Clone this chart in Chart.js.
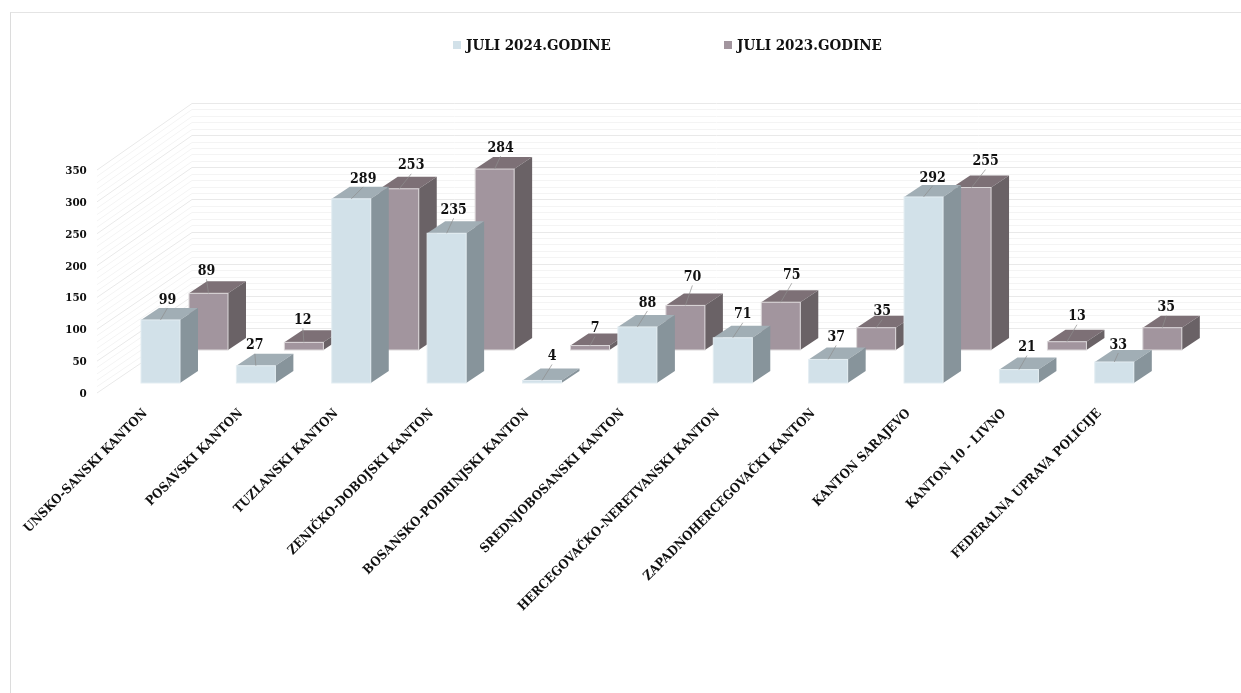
<!DOCTYPE html>
<html>
<head>
<meta charset="utf-8">
<title>Juli 2024 / Juli 2023</title>
<script src="https://cdn.jsdelivr.net/npm/chart.js@4"></script>
<style>
  html, body { margin: 0; padding: 0; background: #fff; overflow: hidden; }
  #frame { position: absolute; left: 10px; top: 12px; right: 0; bottom: 0; border-left: 1px solid #dcdcdc; border-top: 1px solid #e4e4e4; }
  canvas { position: absolute; left: 0; top: 0; }
</style>
</head>
<body>
<div id="frame"></div>
<canvas id="chart" width="1241" height="693"></canvas>
<script>
const categories = [
  'UNSKO-SANSKI KANTON', 'POSAVSKI KANTON', 'TUZLANSKI KANTON', 'ZENIČKO-DOBOJSKI KANTON',
  'BOSANSKO-PODRINJSKI KANTON', 'SREDNJOBOSANSKI KANTON', 'HERCEGOVAČKO-NERETVANSKI KANTON',
  'ZAPADNOHERCEGOVAČKI KANTON', 'KANTON SARAJEVO', 'KANTON 10 - LIVNO', 'FEDERALNA UPRAVA POLICIJE',
];
const values2024 = [99, 27, 289, 235, 4, 88, 71, 37, 292, 21, 33];
const values2023 = [89, 12, 253, 284, 7, 70, 75, 35, 255, 13, 35];

const FONT = '"DejaVu Serif", serif';
const WEIGHT = 'condensed bold';
const TEXT = '#111';

// 3D look: each series sits on its own plane, shifted from the axis zero
const planes = [
  { dx: 0, dy: -11, front: '#d2e1e9', side: '#87949b', top: '#a1aeb5', edge: '#e3edf2' },
  { dx: 48, dy: -44, front: '#a2959e', side: '#6a6266', top: '#7d7076', edge: '#dcd8da' },
];
const depth = { x: 18, y: -12 };
const wall = { left: 97, dx: 95, dy: -65, stretch: 1.009 };

// small shifts of the value labels, they do not sit evenly in the original
const labelShift2024 = [[1, 3], [-7, 3], [6, 3], [1, 0], [4, -1], [4, -1], [4, 0], [2, 1], [3, 4], [2, 1], [-2, 6]];
const labelShift2023 = [[-8, 1], [-7, 1], [6, 0], [0, 2], [-1, 6], [1, -5], [5, -4], [0, 7], [8, -3], [4, -2], [-2, 3]];

function poly(ctx, pts, fill) {
  ctx.fillStyle = fill;
  ctx.beginPath();
  pts.forEach((p, i) => (i ? ctx.lineTo(p[0], p[1]) : ctx.moveTo(p[0], p[1])));
  ctx.closePath();
  ctx.fill();
}

function drawWall(chart) {
  const ctx = chart.ctx;
  const yScale = chart.scales.y;
  const zero = yScale.getPixelForValue(0);
  ctx.save();
  ctx.lineWidth = 1;
  for (let v = 0; v <= yScale.max; v += 10) {
    const y = yScale.getPixelForValue(v) - 1;
    const backY = Math.round(zero + (y - zero) * wall.stretch + wall.dy) + 0.5;
    ctx.strokeStyle = v % 50 === 0 ? '#e9e9e9' : '#f4f4f4';
    ctx.beginPath();
    ctx.moveTo(wall.left, y);
    ctx.lineTo(wall.left + wall.dx, backY);
    ctx.lineTo(chart.width, backY);
    ctx.stroke();
  }
  ctx.restore();
}

function drawCube(ctx, bar, plane) {
  const l = bar.x - bar.width / 2 + plane.dx;
  const r = bar.x + bar.width / 2 + plane.dx;
  const t = bar.y + plane.dy;
  const b = bar.base + plane.dy;
  const dx = depth.x;
  const dy = depth.y;
  poly(ctx, [[l, t], [r, t], [r + dx, t + dy], [l + dx, t + dy]], plane.top);
  poly(ctx, [[r, t], [r + dx, t + dy], [r + dx, b + dy], [r, b]], plane.side);
  poly(ctx, [[l, t], [r, t], [r, b], [l, b]], plane.front);
  ctx.strokeStyle = plane.edge;
  ctx.lineWidth = 1;
  ctx.strokeRect(l, t, r - l, b - t);
}

function drawLabel(ctx, bar, plane, value, shift) {
  const cx = bar.x + plane.dx;
  const t = bar.y + plane.dy;
  const lx = cx + 6 + shift[0];
  const ly = t + depth.y - 11 + shift[1];
  ctx.strokeStyle = '#8e8e8e';
  ctx.lineWidth = 0.7;
  ctx.beginPath();
  ctx.moveTo(cx, t);
  ctx.lineTo(lx, ly + 8);
  ctx.stroke();
  ctx.fillStyle = TEXT;
  ctx.font = WEIGHT + ' 14px ' + FONT;
  ctx.textAlign = 'center';
  ctx.textBaseline = 'middle';
  ctx.fillText(String(value), lx, ly);
}

function drawLegend(chart) {
  const ctx = chart.ctx;
  const starts = [453, 724];
  ctx.save();
  ctx.font = WEIGHT + ' 15px ' + FONT;
  ctx.textBaseline = 'middle';
  ctx.textAlign = 'left';
  chart.data.datasets.forEach((ds, i) => {
    ctx.fillStyle = planes[i].front;
    ctx.fillRect(starts[i], 41, 8, 8);
    ctx.fillStyle = TEXT;
    ctx.fillText(ds.label, starts[i] + 13, 46);
  });
  ctx.restore();
}

const cubes = {
  id: 'cubes',
  beforeDraw(chart) {
    drawWall(chart);
    drawLegend(chart);
  },
  beforeDatasetsDraw(chart) {
    const ctx = chart.ctx;
    const shifts = [labelShift2024, labelShift2023];
    ctx.save();
    // back series first, the front series overlaps it
    [1, 0].forEach((i) => {
      chart.getDatasetMeta(i).data.forEach((bar) => drawCube(ctx, bar, planes[i]));
    });
    [1, 0].forEach((i) => {
      chart.getDatasetMeta(i).data.forEach((bar, j) => {
        drawLabel(ctx, bar, planes[i], chart.data.datasets[i].data[j], shifts[i][j]);
      });
    });
    ctx.restore();
    return false;
  },
};

new Chart(document.getElementById('chart'), {
  type: 'bar',
  data: {
    labels: categories,
    datasets: [
      { label: 'JULI 2024.GODINE', data: values2024, backgroundColor: planes[0].front, barThickness: 39, grouped: false },
      { label: 'JULI 2023.GODINE', data: values2023, backgroundColor: planes[1].front, barThickness: 39, grouped: false },
    ],
  },
  options: {
    responsive: false,
    animation: false,
    layout: { padding: { left: 0, right: 79, top: 171, bottom: 0 } },
    plugins: { legend: { display: false }, tooltip: { enabled: false } },
    scales: {
      x: {
        afterFit: (scale) => { scale.height = 299; },
        grid: { display: false },
        border: { display: false },
        ticks: {
          autoSkip: false,
          minRotation: 45,
          maxRotation: 45,
          padding: 4,
          labelOffset: -15,
          color: TEXT,
          font: { family: FONT, size: 12.9, weight: WEIGHT },
        },
      },
      y: {
        min: 0,
        max: 350,
        afterFit: (scale) => { scale.width = 112.8; },
        grid: { display: false },
        border: { display: false },
        ticks: {
          stepSize: 50,
          padding: 18,
          color: TEXT,
          font: { family: FONT, size: 11.5, weight: WEIGHT },
        },
      },
    },
  },
  plugins: [cubes],
});
</script>
</body>
</html>
